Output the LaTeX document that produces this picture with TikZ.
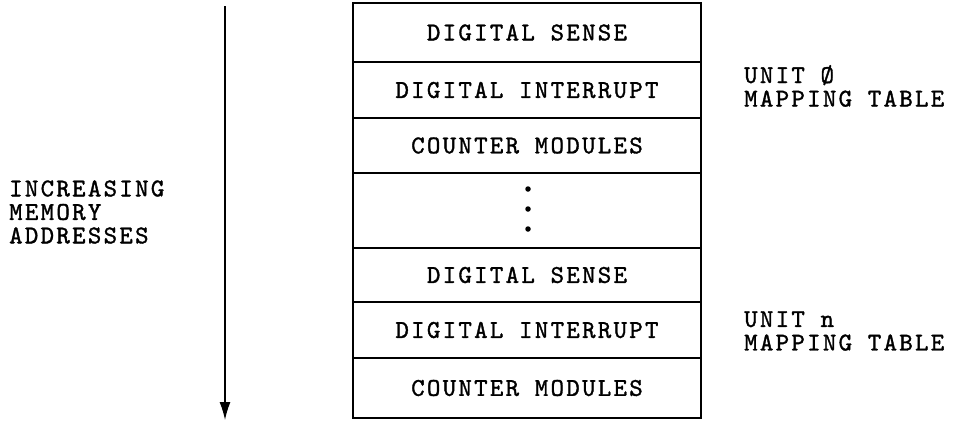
\documentclass[tikz,border=0pt]{standalone}
\usepackage{fontspec}
\newfontfamily\tw[LetterSpace=9.0,FakeBold=1.3]{lmmono10-regular.otf}
\usetikzlibrary{arrows.meta}
\begin{document}
\begin{tikzpicture}[x=1pt,y=-1pt,
  rowbox/.style={draw,line width=1.5pt,rectangle,inner sep=0pt,minimum width=348pt,font=\tw\fontsize{25.6}{25}\selectfont},
  lbl/.style={align=left,inner sep=0pt,font=\tw\fontsize{25.6}{23.5}\selectfont},
  dotmark/.style={circle,fill,inner sep=0pt,minimum size=5.5pt}]
\useasboundingbox (0,0) rectangle (956,421);
\node[rowbox,minimum height=59pt] (r1) at (527,32.5) {DIGITAL SENSE};
\node[rowbox,minimum height=56pt] (r2) at (527,90) {DIGITAL INTERRUPT};
\node[rowbox,minimum height=55pt] (r3) at (527,145.5) {COUNTER MODULES};
\node[rowbox,minimum height=75pt] (r4) at (527,210.5) {};
\node[rowbox,minimum height=54pt] (r5) at (527,275) {DIGITAL SENSE};
\node[rowbox,minimum height=56pt] (r6) at (527,330) {DIGITAL INTERRUPT};
\node[rowbox,minimum height=60pt] (r7) at (527,388) {COUNTER MODULES};
\node[dotmark] (d1) at (528,189) {};
\node[dotmark] (d2) at (528,209) {};
\node[dotmark] (d3) at (528,229) {};
\node[lbl,anchor=west] (inc) at (9,212) {INCREASING\\MEMORY\\ADDRESSES};
\node[lbl,anchor=west] (u0) at (744,86) {UNIT Ø\\MAPPING TABLE};
\node[lbl,anchor=west] (un) at (744,331) {UNIT n\\MAPPING TABLE};
\coordinate (atop) at (225,6);
\coordinate (abot) at (225,420);
\draw[line width=1.3pt,-{Latex[length=18pt,width=11pt]}] (atop) -- (abot);
\end{tikzpicture}
\end{document}
